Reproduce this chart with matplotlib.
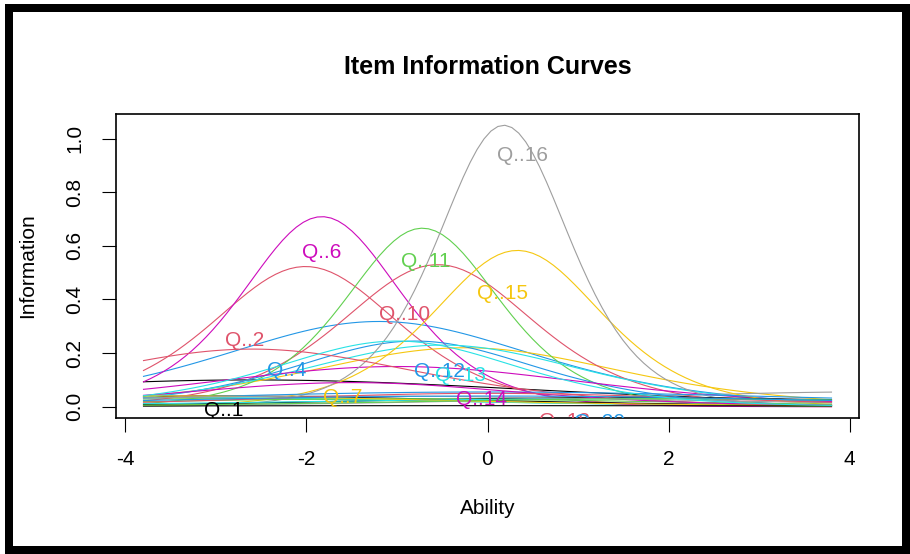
import numpy as np
import matplotlib.pyplot as plt
from matplotlib.patches import Rectangle
from matplotlib.transforms import offset_copy

plt.rcParams['font.family'] = ['Liberation Sans', 'DejaVu Sans']
plt.rcParams['axes.unicode_minus'] = False

# item names and the shape of each information curve:
# peak height, ability at the peak, steepness of the flanks
items = ['Q..%d' % i for i in range(1, 30)]
peak_info = [0.10, 0.523, 0.03, 0.318, 0.035, 0.709, 0.22, 0.056, 0.04, 0.53,
             0.666, 0.245, 0.23, 0.15, 0.583, 1.05, 0.035, 0.215, 0.03, 0.055,
             0.03, 0.09, 0.04, 0.04, 0.004, 0.05, 0.03, 0.04, 0.245]
peak_ability = [-2.6, -2.01, -3.0, -1.2, -3.5, -1.83, -0.25, 4.5, -3.0, -0.55,
                -0.72, -0.8, -0.5, -1.0, 0.33, 0.18, 1.5, -2.6, -1.0, 0.0,
                1.5, -1.5, -3.5, -1.5, 0.0, 0.0, 2.0, 0.0, -1.0]
slope = [0.45, 1.45, 0.5, 0.85, 0.5, 1.7, 0.85, 0.45, 0.5, 1.4,
         1.75, 1.1, 0.95, 0.7, 1.6, 2.05, 0.5, 0.8, 0.5, 0.4,
         0.4, 0.8, 0.5, 0.4, 0.3, 0.6, 0.5, 0.4, 1.1]

# R default palette, recycled over the items
r_palette = ['black', '#DF536B', '#61D04F', '#2297E6', '#28E2E5',
             '#CD0BBC', '#F5C710', '#9E9E9E']

z = np.linspace(-3.8, 3.8, 100)


def info_curve(h, b, s, theta):
    p = 1.0 / (1.0 + np.exp(-s * (theta - b)))
    return 4.0 * h * p * (1.0 - p)


fig = plt.figure(figsize=(9.1, 5.54), dpi=100)
ax = fig.add_axes([116 / 910, 1 - 418 / 554, 743 / 910, 304 / 554])

curves = []
for i in range(len(items)):
    y = info_curve(peak_info[i], peak_ability[i], slope[i], z)
    curves.append(y)
    ax.plot(z, y, color=r_palette[i % 8], lw=0.8)

# labels sit below each curve at evenly spaced abilities (like ltm's annot)
pos = np.round(np.linspace(10, 90, len(items))).astype(int) - 1
lab_tr = offset_copy(ax.transData, fig=fig, x=18, y=-30, units='dots')
for i, name in enumerate(items):
    t = ax.text(z[pos[i]], curves[i][pos[i]], name, color=r_palette[i % 8],
                fontsize=15, ha='center', va='center', transform=lab_tr)
    t.set_clip_box(ax.bbox)
    t.set_clip_on(True)

ymax = max(c.max() for c in curves)
ax.set_xlim(-3.8 - 0.304, 3.8 + 0.304)
ax.set_ylim(-0.04 * ymax, ymax * 1.04)
ax.set_xticks([-4, -2, 0, 2, 4])
ax.set_yticks([0.0, 0.2, 0.4, 0.6, 0.8, 1.0])
ax.set_yticklabels(['0.0', '0.2', '0.4', '0.6', '0.8', '1.0'],
                   rotation=90, va='center')
ax.tick_params(length=10, width=0.8, pad=13, labelsize=15)
for sp in ax.spines.values():
    sp.set_linewidth(1.2)

ax.set_xlabel('Ability', fontsize=15, labelpad=22)
ax.set_ylabel('Information', fontsize=15, labelpad=20)
ax.set_title('Item Information Curves', fontsize=18, fontweight='bold', pad=29)

# thick black frame round the screenshot
W, H = 910, 554
for x0, y0, w, h in [(5, 4, 8, 550), (5, 4, 905, 8), (902, 4, 8, 550), (5, 546, 905, 8)]:
    fig.add_artist(Rectangle((x0 / W, 1 - (y0 + h) / H), w / W, h / H,
                             transform=fig.transFigure, color='black', lw=0))

fig.savefig('out.png', dpi=100)
